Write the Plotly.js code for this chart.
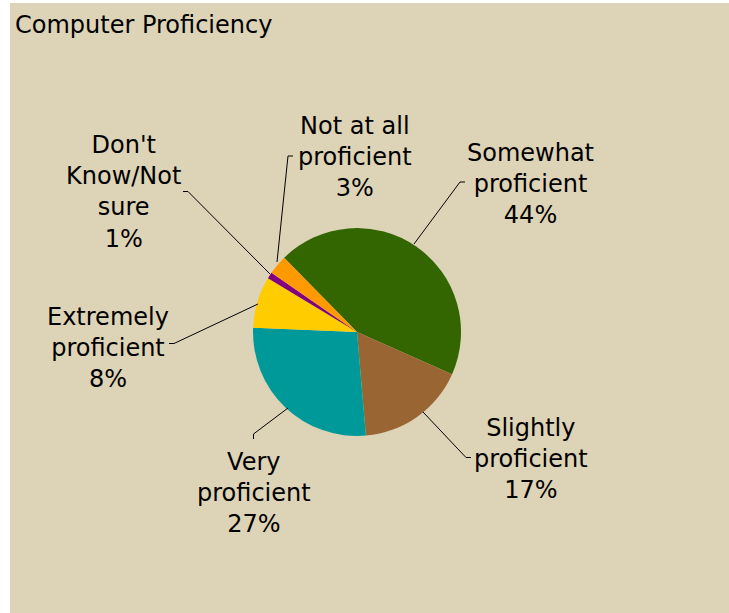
<!DOCTYPE html>
<html>
<head>
<meta charset="utf-8">
<script src="https://cdn.plot.ly/plotly-3.0.1.min.js"></script>
<style>
  html, body { margin: 0; padding: 0; background: #ffffff; }
  #chart { position: absolute; left: 10px; top: 3px; width: 719px; height: 610px; }
</style>
</head>
<body>
<div id="chart"></div>
<script>
// ---- data ----
const categories = ["Somewhat proficient", "Slightly proficient", "Very proficient",
                    "Extremely proficient", "Don't Know/Not sure", "Not at all proficient"];
const labelLines = ["Somewhat<br>proficient", "Slightly<br>proficient", "Very<br>proficient",
                    "Extremely<br>proficient", "Don't<br>Know/Not<br>sure", "Not at all<br>proficient"];
const values = [44, 17, 27, 8, 1, 3];
const colors = ["#336600", "#996633", "#009999", "#FFCC00", "#800080", "#FF9900"];

// ---- layout helpers (page pixel -> paper fraction of the 719x610 div at 10,3) ----
const W = 719, H = 610, OX = 10, OY = 3;
const px = x => (x - OX) / W;
const py = y => 1 - (y - OY) / H;

// pie geometry (centre & radius in page pixels)
const CX = 357, CY = 332, R = 104;

// label block centres (page px) and leader line paths (page px), in data order
const labelPos = [[530, 184], [531, 459], [254.5, 493], [108, 347.5], [123.5, 192], [355, 157]];
const leaders = [
  [[414, 244], [460, 182], [465, 182]],
  [[423, 412], [466, 457.5], [471, 457.5]],
  [[288, 408], [253.5, 434], [253.5, 439]],
  [[258, 304], [174, 343.5], [169, 343.5]],
  [[270, 274], [188, 191.5], [183, 191.5]],
  [[277, 262], [288, 156], [293, 156]]
];

const FONT = "DejaVu Sans, Verdana, sans-serif";
const FS = 24;

const annotations = categories.map((c, i) => ({
  xref: 'paper', yref: 'paper',
  x: px(labelPos[i][0]), y: py(labelPos[i][1]),
  xanchor: 'center', yanchor: 'middle',
  text: labelLines[i] + '<br>' + values[i] + '%',
  showarrow: false,
  align: 'center',
  font: { family: FONT, size: FS, color: '#000000' }
}));

const shapes = leaders.map(pts => ({
  type: 'path', xref: 'paper', yref: 'paper',
  path: pts.map((p, k) => (k === 0 ? 'M' : 'L') + px(p[0]) + ',' + py(p[1])).join(' '),
  line: { color: '#000000', width: 1 }
}));

const trace = {
  type: 'pie',
  labels: categories,
  values: values,
  sort: false,
  direction: 'clockwise',
  rotation: -44.5,
  marker: { colors: colors, line: { width: 0 } },
  textinfo: 'none',
  hoverinfo: 'label+percent',
  showlegend: false,
  domain: { x: [px(CX - R), px(CX + R)], y: [py(CY + R), py(CY - R)] }
};

const layout = {
  width: W, height: H,
  margin: { l: 0, r: 0, t: 0, b: 0 },
  paper_bgcolor: 'rgb(221,211,182)',
  plot_bgcolor: 'rgb(221,211,182)',
  showlegend: false,
  title: {
    text: 'Computer Proficiency',
    xref: 'container', yref: 'container',
    x: 5 / W, xanchor: 'left',
    y: 1 - 22 / H, yanchor: 'middle',
    font: { family: FONT, size: FS, color: '#000000' }
  },
  annotations: annotations,
  shapes: shapes
};

Plotly.newPlot('chart', [trace], layout, { displayModeBar: false, staticPlot: true });
</script>
</body>
</html>
